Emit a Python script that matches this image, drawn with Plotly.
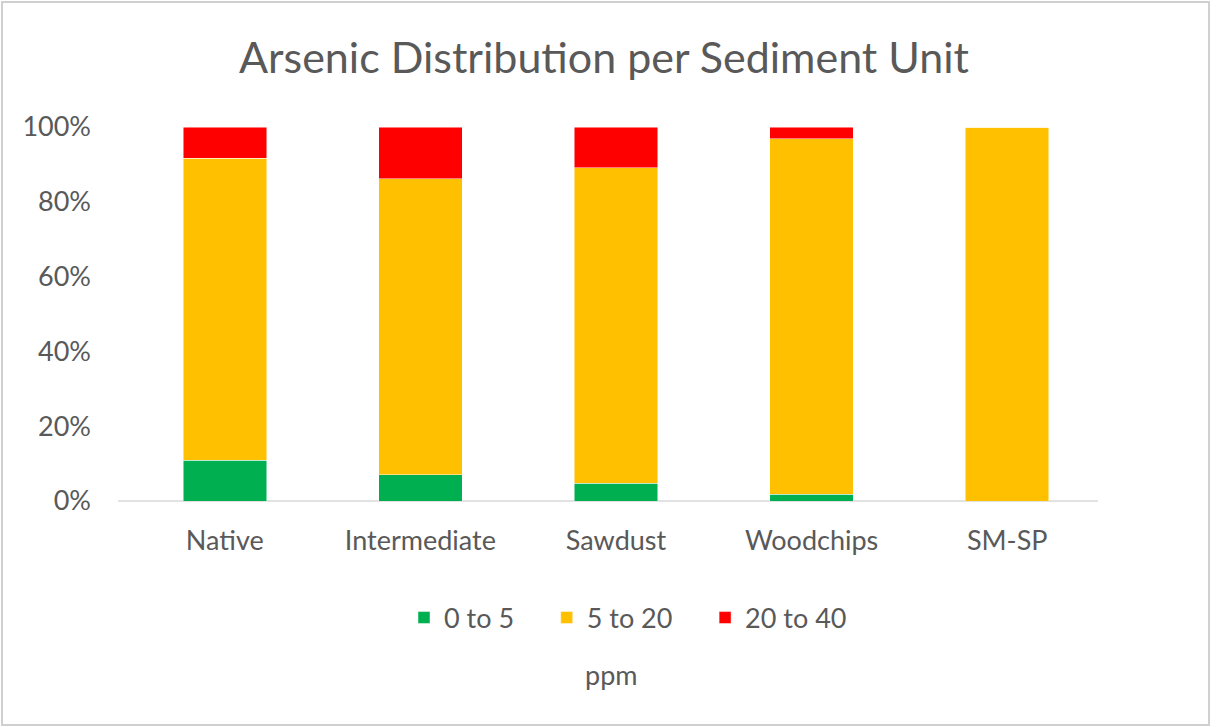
import plotly.graph_objects as go

# Données (en %)
units = ["Native", "Intermediate", "Sawdust", "Woodchips", "SM-SP"]
ppm_0_5 = [10.9, 7.0, 4.8, 1.8, 0.0]
ppm_5_20 = [80.7, 79.1, 84.3, 95.1, 100.0]
ppm_20_40 = [8.4, 13.9, 10.9, 3.1, 0.0]

series_names = ["0 to 5", "5 to 20", "20 to 40"]
series_colors = ["#00B050", "#FFC000", "#FF0000"]

text_color = "#595959"
font_family = "Lato, Carlito, Calibri, sans-serif"

W, H = 1217, 727
ml, mr, mt, mb = 127, 112, 127, 226
pw, ph = W - ml - mr, H - mt - mb

def px_x(p):
    # pixel horizontal -> coordonnée paper
    return (p - ml) / pw

def px_y(p):
    # pixel vertical -> coordonnée paper
    return (H - mb - p) / ph

fig = go.Figure()
for name, vals, color in zip(series_names, [ppm_0_5, ppm_5_20, ppm_20_40], series_colors):
    fig.add_trace(go.Bar(
        x=units,
        y=vals,
        name=name + "\u00a0" * 4,
        marker=dict(color=color, line=dict(color="rgba(255,255,255,0.6)", width=0.8)),
    ))

fig.update_layout(
    barmode="stack",
    bargap=0.573,
    width=W,
    height=H,
    margin=dict(l=ml, r=mr, t=mt, b=mb),
    paper_bgcolor="white",
    plot_bgcolor="white",
    font=dict(family=font_family, color=text_color, size=27),
    title=dict(
        text="Arsenic Distribution per Sediment Unit",
        x=px_x(604), xref="paper", xanchor="center",
        y=1 - 58 / H, yanchor="middle",
        font=dict(size=43, color=text_color, family=font_family),
    ),
    showlegend=True,
    legend=dict(
        orientation="h",
        x=px_x(404), xanchor="left",
        y=px_y(618), yanchor="middle",
        font=dict(size=27, color=text_color),
        itemwidth=30,
        traceorder="normal",
    ),
    xaxis=dict(
        showgrid=False,
        showline=False,
        ticks="",
        ticklabelstandoff=21,
        tickfont=dict(size=27, color=text_color),
    ),
    yaxis=dict(
        range=[0, 100],
        tickvals=[0, 20, 40, 60, 80, 100],
        ticktext=["0%", "20%", "40%", "60%", "80%", "100%"],
        showgrid=False,
        zeroline=False,
        showline=False,
        ticks="",
        ticklabelstandoff=35,
        tickfont=dict(size=27, color=text_color),
    ),
    annotations=[
        dict(
            text="ppm",
            xref="paper", yref="paper",
            x=px_x(611), y=px_y(674),
            xanchor="center", yanchor="middle",
            showarrow=False,
            font=dict(size=27, color=text_color),
        )
    ],
    shapes=[
        # ligne de l'axe des catégories
        dict(
            type="line",
            xref="paper", yref="paper",
            x0=px_x(118), x1=px_x(1098), y0=0, y1=0,
            line=dict(color="#D9D9D9", width=1.5),
            layer="below",
        ),
        # cadre du graphique
        dict(
            type="rect",
            xref="paper", yref="paper",
            x0=px_x(2), x1=px_x(1209),
            y0=px_y(725), y1=px_y(2),
            line=dict(color="#D0D0D0", width=2),
        ),
    ],
)

# marge du body à zéro pour que la figure occupe toute la fenêtre
fig.write_html(
    "out.html",
    config={"displayModeBar": False},
    post_script="document.body.style.margin='0';",
)
